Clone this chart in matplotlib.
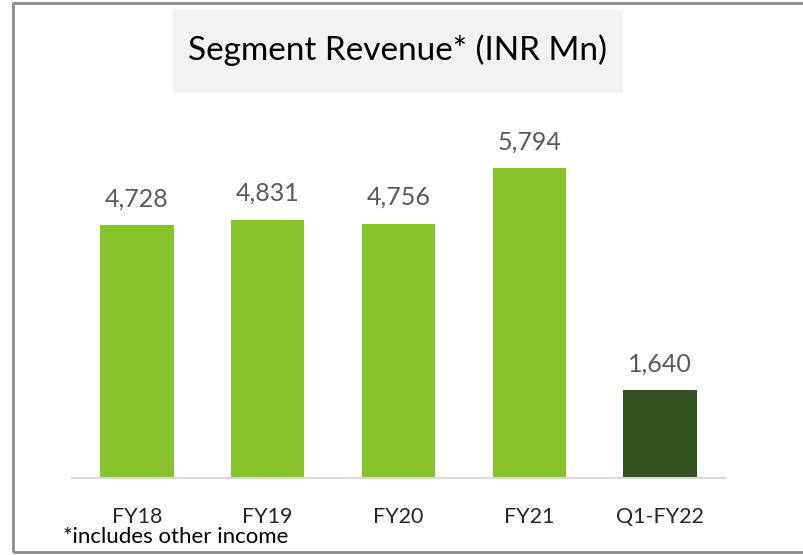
import matplotlib.pyplot as plt
from matplotlib.patches import Rectangle

categories = ['FY18', 'FY19', 'FY20', 'FY21', 'Q1-FY22']
revenue = [4728, 4831, 4756, 5794, 1640]
bar_colors = ['#86C22A', '#86C22A', '#86C22A', '#86C22A', '#33521F']

plt.rcParams['font.family'] = ['Lato', 'DejaVu Sans']

W, H = 804, 555
fig = plt.figure(figsize=(W / 100, H / 100), dpi=100)

# outer frame (right edge runs off the picture)
fig.patches.append(Rectangle((13 / W, 1 - 552 / H), 1.0, (552 - 3) / H,
                             transform=fig.transFigure, fill=False,
                             edgecolor='#8C8C8C', lw=2))

# title box
fig.patches.append(Rectangle((173 / W, 1 - 93 / H), (623 - 173) / W, (93 - 10) / H,
                             transform=fig.transFigure, facecolor='#F2F2F2',
                             edgecolor='none'))
fig.text(398 / W, 1 - 50 / H, 'Segment Revenue* (INR Mn)', ha='center', va='center',
         fontsize=24, color='#000000')

ax = fig.add_axes([71.6 / W, 1 - 478 / H, 653.8 / W, 6000 * 0.0535 / H])
x = range(len(categories))
ax.bar(x, revenue, width=0.56, color=bar_colors)
ax.set_xlim(-0.5, 4.5)
ax.set_ylim(0, 6000)

for i, v in zip(x, revenue):
    ax.annotate(f'{v:,}', (i, v), xytext=(0, 19), textcoords='offset points',
                ha='center', va='center', fontsize=18, color='#595959')

for s in ['top', 'right', 'left']:
    ax.spines[s].set_visible(False)
ax.spines['bottom'].set_color('#D9D9D9')
ax.spines['bottom'].set_linewidth(1.5)
ax.set_yticks([])
ax.set_xticks(list(x))
ax.set_xticklabels(categories, fontsize=15.5, color='#262626')
ax.tick_params(axis='x', length=0, pad=21)

fig.text(63 / W, 1 - 537 / H, '*includes other income', ha='left', va='center',
         fontsize=16, color='#000000')

fig.savefig('out.png', dpi=100)
